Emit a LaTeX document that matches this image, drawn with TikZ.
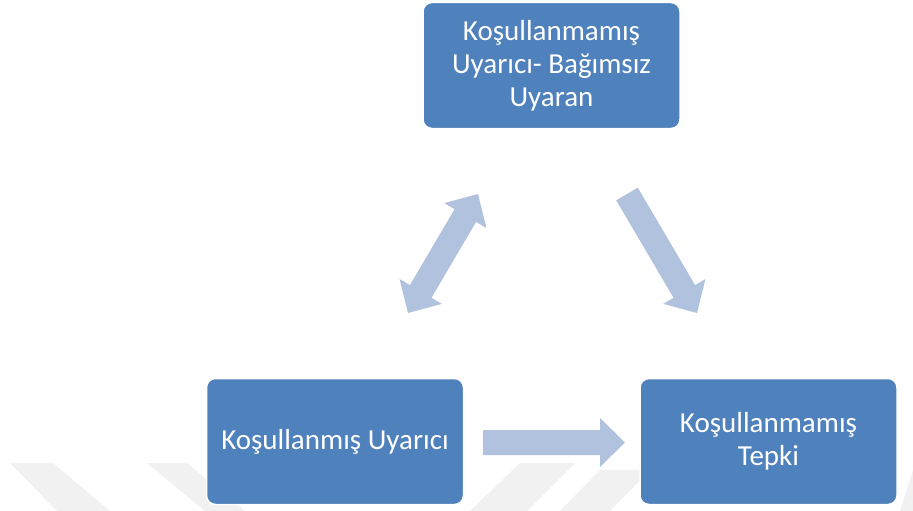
\documentclass[tikz,border=0pt]{standalone}
\usepackage{fontspec}
\setmainfont{Carlito}
\usetikzlibrary{calc}
\definecolor{boxblue}{RGB}{79,129,189}
\definecolor{arrowblue}{RGB}{176,194,222}
\definecolor{wmark}{RGB}{241,241,241}
\tikzset{
  bluebox/.style={rectangle, rounded corners=9pt, fill=boxblue, text=white,
    minimum width=257pt, minimum height=126pt, align=center,
    font=\fontsize{29}{33}\selectfont, inner sep=0pt, draw=white, line width=1.5pt},
  blockarrow/.style={fill=arrowblue, draw=none},
  wmband/.style={fill=wmark, draw=none}
}
\begin{document}
\begin{tikzpicture}[x=1pt,y=-1pt]
\useasboundingbox (0,0) rectangle (913,511);
% faint background bands
\fill[wmband] (10,463) -- (53,463) -- (110,511) -- (57,511) -- cycle;
\fill[wmband] (147,463) -- (187,463) -- (245,511) -- (205,511) -- cycle;
\fill[wmband] (470,511) -- (527,511) -- (575,463) -- (520,463) -- cycle;
\fill[wmband] (560,511) -- (610,511) -- (650,470) -- (600,470) -- cycle;
\fill[wmband] (900,511) -- (913,511) -- (913,470) -- cycle;
\node[bluebox] (top) at (551.5,65.5) {Koşullanmamış\\Uyarıcı- Bağımsız\\Uyaran};
\node[bluebox] (left) at (335,441.5) {Koşullanmış Uyarıcı};
\node[bluebox] (right) at (768.5,441.5) {Koşullanmamış\\Tepki};
% horizontal arrow
\coordinate (S1) at (483,442.5);
\coordinate (T1) at (625,442.5);
\coordinate (H1) at ($(T1)!25pt!(S1)$);
\fill[blockarrow] ($(S1)!12.5pt!90:(T1)$) -- ($(H1)!12.5pt!-90:(S1)$) -- ($(H1)!24.5pt!-90:(S1)$) -- (T1)
  -- ($(H1)!24.5pt!90:(S1)$) -- ($(H1)!12.5pt!90:(S1)$) -- ($(S1)!12.5pt!-90:(T1)$) -- cycle;
% diagonal single arrow
\coordinate (S2) at (627,194);
\coordinate (T2) at (697,313);
\coordinate (H2) at ($(T2)!25pt!(S2)$);
\fill[blockarrow] ($(S2)!12.5pt!90:(T2)$) -- ($(H2)!12.5pt!-90:(S2)$) -- ($(H2)!24.5pt!-90:(S2)$) -- (T2)
  -- ($(H2)!24.5pt!90:(S2)$) -- ($(H2)!12.5pt!90:(S2)$) -- ($(S2)!12.5pt!-90:(T2)$) -- cycle;
% double arrow
\coordinate (A) at (478,194);
\coordinate (B) at (408,313);
\coordinate (Ha) at ($(A)!25pt!(B)$);
\coordinate (Hb) at ($(B)!25pt!(A)$);
\fill[blockarrow] (A) -- ($(Ha)!24.5pt!90:(B)$) -- ($(Ha)!12.5pt!90:(B)$) -- ($(Hb)!12.5pt!-90:(A)$)
  -- ($(Hb)!24.5pt!-90:(A)$) -- (B) -- ($(Hb)!24.5pt!90:(A)$) -- ($(Hb)!12.5pt!90:(A)$)
  -- ($(Ha)!12.5pt!-90:(B)$) -- ($(Ha)!24.5pt!-90:(B)$) -- cycle;
\end{tikzpicture}
\end{document}
